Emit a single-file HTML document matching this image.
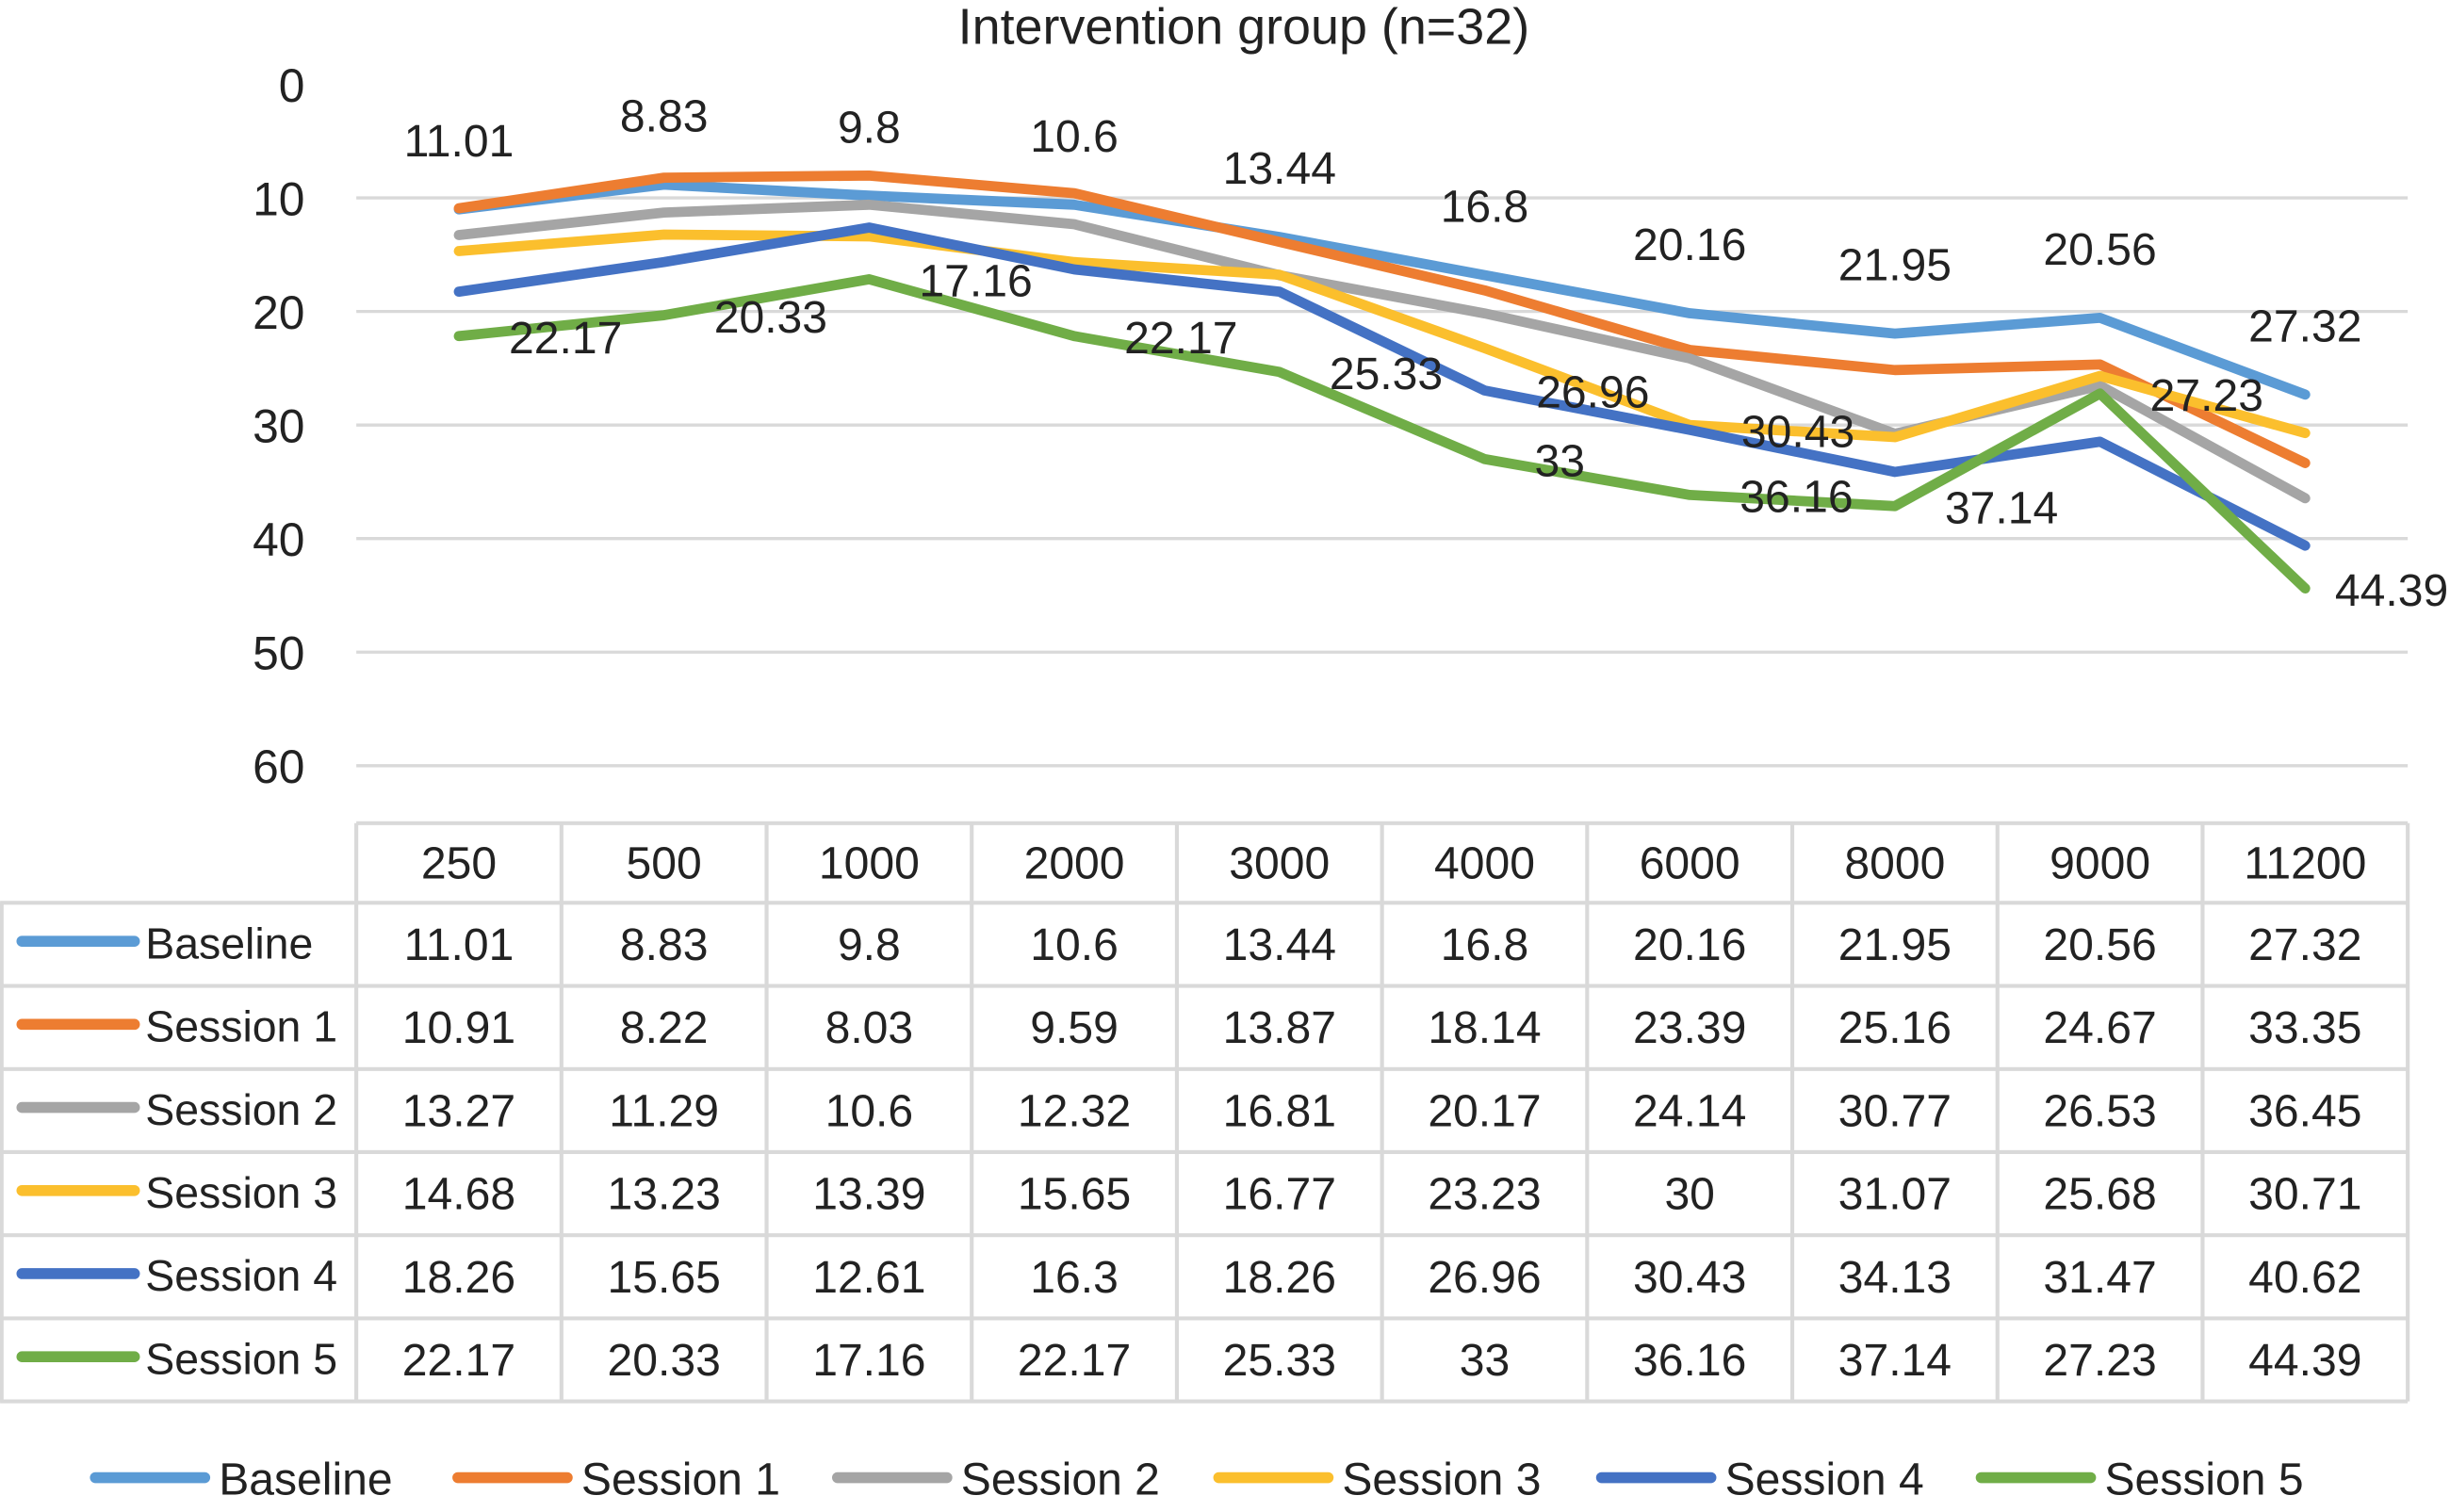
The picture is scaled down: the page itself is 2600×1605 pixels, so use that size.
<!DOCTYPE html>
<html><head><meta charset="utf-8"><style>
html,body{margin:0;padding:0;background:#fff;overflow:hidden;}
svg{display:block;font-family:"Liberation Sans",Arial,sans-serif;}
</style></head><body>
<svg id="chart" width="2600" height="1605" viewBox="0 0 1568 968" xmlns="http://www.w3.org/2000/svg">
<text x="796" y="28" text-anchor="middle" font-size="32.5" fill="#222">Intervention group (n=32)</text>
<g id="grid"></g><g id="yaxis"></g><g id="lines"></g><g id="labels"></g><g id="table"></g><g id="legend"></g>
</svg>
<script>
const categories = ["250","500","1000","2000","3000","4000","6000","8000","9000","11200"];
const seriesNames = ["Baseline","Session 1","Session 2","Session 3","Session 4","Session 5"];
const baseline = [11.01,8.83,9.8,10.6,13.44,16.8,20.16,21.95,20.56,27.32];
const session1 = [10.91,8.22,8.03,9.59,13.87,18.14,23.39,25.16,24.67,33.35];
const session2 = [13.27,11.29,10.6,12.32,16.81,20.17,24.14,30.77,26.53,36.45];
const session3 = [14.68,13.23,13.39,15.65,16.77,23.23,30,31.07,25.68,30.71];
const session4 = [18.26,15.65,12.61,16.3,18.26,26.96,30.43,34.13,31.47,40.62];
const session5 = [22.17,20.33,17.16,22.17,25.33,33,36.16,37.14,27.23,44.39];
const yTicks = [0,10,20,30,40,50,60];
const colors = ["#5B9BD5","#ED7D31","#A5A5A5","#FBBF2D","#4472C4","#70AD47"];
const allSeries = [baseline,session1,session2,session3,session4,session5];

const NS="http://www.w3.org/2000/svg";
const plotL=228, plotR=1541, colW=(plotR-plotL)/categories.length;
const y0=54, yPer=72.7/10;
const yS=v=>y0+v*yPer;
const xS=i=>plotL+colW*(i+0.5);
function mk(tag,attrs,parent,txt){const e=document.createElementNS(NS,tag);for(const k in attrs)e.setAttribute(k,attrs[k]);if(txt!==undefined)e.textContent=txt;parent.appendChild(e);return e;}
const grid=document.getElementById('grid'),yaxis=document.getElementById('yaxis'),lines=document.getElementById('lines'),labels=document.getElementById('labels'),table=document.getElementById('table'),legend=document.getElementById('legend');

yTicks.forEach(t=>{
  if(t>0){const g=mk('line',{x1:plotL,x2:plotR,y1:yS(t),y2:yS(t),stroke:'#d9d9d9','stroke-width':2},grid);
  
  }
  const tx=mk('text',{x:195,y:yS(t)+11,'text-anchor':'end','font-size':30,fill:'#222'},yaxis,String(t));
  
  
});

allSeries.forEach((s,si)=>{
  const p=mk('polyline',{points:s.map((v,i)=>xS(i)+','+yS(v)).join(' '),fill:'none',stroke:colors[si],'stroke-width':6.5,'stroke-linejoin':'round','stroke-linecap':'round'},lines);
  
  
});

baseline.forEach((v,i)=>{
  const t=mk('text',{x:xS(i),y:yS(v)-34,'text-anchor':'middle','font-size':29,fill:'#222'},labels,String(v));
  
  
});
session5.forEach((v,i)=>{
  const last=(i===categories.length-1);
  const t=last
    ? mk('text',{x:1567,y:yS(v)+11,'text-anchor':'end','font-size':29,fill:'#222'},labels,String(v))
    : mk('text',{x:xS(i)+32,y:yS(v)+11,'font-size':29,fill:'#222'},labels,String(v));
  
  
});
[5,6].forEach(i=>{
  const t=mk('text',{x:xS(i)+33,y:yS(session4[i])+11,'font-size':29,fill:'#222'},labels,String(session4[i]));
  
  
});

const tTop=527, hdrB=578, rowH=53.2, nR=seriesNames.length, tBot=hdrB+rowH*nR;
const lc='#d9d9d9';
mk('line',{x1:plotL,x2:plotR,y1:tTop,y2:tTop,stroke:lc,'stroke-width':2.5},table);
for(let r=0;r<=nR;r++){const yy=hdrB+r*rowH;mk('line',{x1:0,x2:plotR,y1:yy,y2:yy,stroke:lc,'stroke-width':2.5},table);}
for(let c=0;c<=categories.length;c++){const xx=plotL+c*colW;mk('line',{x1:xx,x2:xx,y1:tTop,y2:tBot,stroke:lc,'stroke-width':2.5},table);}
mk('line',{x1:1,x2:1,y1:hdrB,y2:tBot,stroke:lc,'stroke-width':2.5},table);
categories.forEach((c,i)=>{
  const t=mk('text',{x:xS(i),y:(tTop+hdrB)/2+10,'text-anchor':'middle','font-size':29,fill:'#222'},table,c);
  
  
});
allSeries.forEach((s,si)=>{
  const cy=hdrB+rowH*(si+0.5);
  const k=mk('line',{x1:14,x2:86,y1:cy-2,y2:cy-2,stroke:colors[si],'stroke-width':7,'stroke-linecap':'round'},table);
  
  
  const n=mk('text',{x:93,y:cy+9,'font-size':28,fill:'#222'},table,seriesNames[si]);
  
  
  s.forEach((v,i)=>{
    const t=mk('text',{x:xS(i),y:cy+10,'text-anchor':'middle','font-size':29,fill:'#222'},table,String(v));
    
    
  });
});

const legX=[58,290,533,777,1022,1265];
seriesNames.forEach((n,si)=>{
  const ly=946;
  const l=mk('line',{x1:legX[si]+3,x2:legX[si]+73,y1:ly,y2:ly,stroke:colors[si],'stroke-width':7,'stroke-linecap':'round'},legend);
  
  
  const t=mk('text',{x:legX[si]+82,y:ly+11,'font-size':29,fill:'#222'},legend,n);
  
  
});
</script>
</body></html>
